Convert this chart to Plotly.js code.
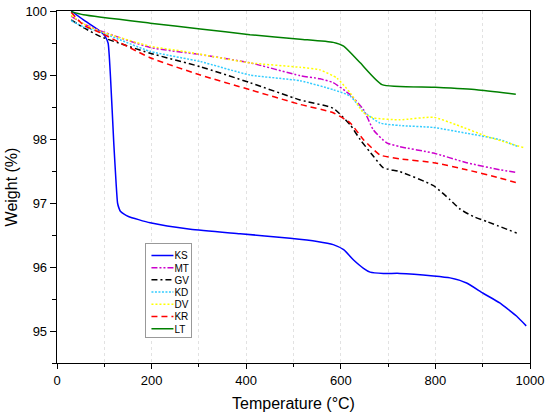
<!DOCTYPE html>
<html>
<head>
<meta charset="utf-8">
<script src="https://cdn.plot.ly/plotly-3.0.1.min.js"></script>
<style>html,body{margin:0;padding:0;background:#fff;}#chart{width:550px;height:417px;}</style>
</head>
<body>
<div id="chart"></div>
<script>
// Series data (Temperature °C, Weight %)
const seriesNames = ["KS", "MT", "GV", "KD", "DV", "KR", "LT"];

const ksT = [30,56,92,102,108,113,120,125,128,131,134,141,151,197,282,387,493,550,584,606,627,648,662,690,725,796,831,866,901,936,950,972,992];
const ksW = [100,99.86,99.68,99.6,99.5,98.98,97.94,97.3,97.0,96.92,96.87,96.83,96.79,96.69,96.59,96.52,96.45,96.40,96.35,96.27,96.11,95.98,95.92,95.90,95.90,95.86,95.83,95.75,95.59,95.44,95.36,95.23,95.08];

const mtT = [30,56,92,197,303,408,514,556,584,620,648,669,697,725,796,866,936,970];
const mtW = [99.92,99.8,99.69,99.43,99.32,99.19,98.99,98.94,98.88,98.69,98.46,98.14,97.94,97.88,97.78,97.63,97.52,97.48];

const gvT = [30,56,92,197,303,408,514,584,620,641,669,690,725,796,831,853,880,909,972];
const gvW = [99.86,99.74,99.60,99.34,99.13,98.88,98.61,98.48,98.22,97.99,97.73,97.55,97.49,97.27,97.05,96.90,96.79,96.71,96.53];

const kdT = [30,56,92,197,303,408,514,584,620,648,683,725,796,866,936,975];
const kdW = [99.85,99.75,99.67,99.37,99.21,99.00,98.91,98.77,98.67,98.43,98.25,98.21,98.18,98.09,97.99,97.88];

const dvT = [30,56,92,197,267,408,514,556,592,620,648,669,725,796,845,909,989];
const dvW = [99.93,99.8,99.68,99.45,99.37,99.19,99.12,99.08,98.95,98.72,98.41,98.33,98.30,98.34,98.22,98.04,97.86];

const krT = [30,56,92,197,303,408,514,584,620,648,683,725,796,866,936,970];
const krW = [99.98,99.78,99.66,99.27,99.00,98.77,98.54,98.41,98.25,97.99,97.75,97.69,97.63,97.52,97.39,97.32];

const ltT = [30,56,197,303,408,514,584,606,641,687,796,887,970];
const ltW = [99.99,99.94,99.81,99.72,99.63,99.56,99.51,99.45,99.19,98.85,98.81,98.77,98.70];

const xTickVals = [0,200,400,600,800,1000];
const yTickVals = [95,96,97,98,99,100];

const styles = {
  KS: {color:"#0000ff", dash:"solid"},
  MT: {color:"#cc00cc", dash:"6px,2px,2px,2px,2px,2px"},
  GV: {color:"#000000", dash:"6px,3px,2px,3px"},
  KD: {color:"#33ccff", dash:"2px,1.5px"},
  DV: {color:"#ffff00", dash:"2px,2px"},
  KR: {color:"#ff0000", dash:"6px,4px"},
  LT: {color:"#008000", dash:"solid"}
};

const dataXY = {KS:[ksT,ksW], MT:[mtT,mtW], GV:[gvT,gvW], KD:[kdT,kdW], DV:[dvT,dvW], KR:[krT,krW], LT:[ltT,ltW]};

const traces = seriesNames.map(n => ({
  x: dataXY[n][0], y: dataXY[n][1], name: n, type: "scatter", mode: "lines",
  line: {color: styles[n].color, dash: styles[n].dash, width: 1.5, shape: "spline", smoothing: 0.5}
}));

const font = {family: "Liberation Sans, Arial, sans-serif", color: "#000"};

const layout = {
  width: 550, height: 417,
  margin: {l: 57, r: 20, t: 11, b: 54},
  paper_bgcolor: "#fff", plot_bgcolor: "#fff",
  font: font,
  showlegend: true,
  legend: {
    x: 0.187, y: 0.341, xanchor: "left", yanchor: "top",
    bgcolor: "#fff", bordercolor: "#999", borderwidth: 1,
    font: {family: font.family, size: 10, color: "#000"},
    itemwidth: 30, tracegroupgap: 0
  },
  xaxis: {
    range: [0, 1000], tickvals: xTickVals, ticktext: xTickVals.map(String),
    ticks: "outside", ticklen: 5, tickwidth: 1, tickcolor: "#000",
    showline: true, linecolor: "#000", linewidth: 1.3, mirror: true,
    showgrid: true, gridcolor: "#e2e2e2", griddash: "dot", gridwidth: 1,
    minor: {dtick: 100, ticks: "outside", ticklen: 3, tickcolor: "#000", showgrid: true, gridcolor: "#e2e2e2", griddash: "dot", gridwidth: 1},
    zeroline: false,
    tickfont: {family: font.family, size: 13, color: "#000"},
    title: {text: "Temperature (°C)", font: {family: font.family, size: 16, color: "#000"}, standoff: 11}
  },
  yaxis: {
    range: [94.5, 100], tickvals: yTickVals, ticktext: yTickVals.map(String),
    ticks: "outside", ticklen: 6, tickwidth: 1, tickcolor: "#000",
    showline: true, linecolor: "#000", linewidth: 1.3, mirror: true,
    showgrid: false, zeroline: false,
    minor: {dtick: 0.5, ticks: "outside", ticklen: 4, tickcolor: "#000", showgrid: false},
    tickfont: {family: font.family, size: 13, color: "#000"},
    title: {text: "Weight (%)", font: {family: font.family, size: 16, color: "#000"}, standoff: 3}
  }
};

Plotly.newPlot("chart", traces, layout, {displayModeBar: false, staticPlot: true}).then(gd => {
  // compact the legend rows and samples to match the reference legend
  const leg = gd.querySelector(".legend");
  if (!leg) return;
  const items = leg.querySelectorAll(".traces");
  const dy = 12.2;
  const shrink = 8;
  let first = null;
  let maxRight = 0;
  items.forEach((it, i) => {
    const t = it.getAttribute("transform") || "";
    const m = t.match(/translate\(\s*([-\d.]+)[ ,]+([-\d.]+)\s*\)/);
    if (!m) return;
    const x = parseFloat(m[1]);
    if (first === null) first = parseFloat(m[2]) - 3;
    it.setAttribute("transform", "translate(" + x + "," + (first + i * dy) + ")");
    it.querySelectorAll("path.js-line").forEach(p => {
      p.setAttribute("d", "M5,0h" + (30 - shrink));
    });
    const txt = it.querySelector("text.legendtext");
    if (txt) {
      const tx = parseFloat(txt.getAttribute("x") || "40");
      txt.setAttribute("x", tx - shrink - 4);
      try {
        const bb = txt.getBBox();
        maxRight = Math.max(maxRight, x + bb.x + bb.width);
      } catch (e) {}
    }
  });
  const bg = leg.querySelector("rect.bg");
  if (bg && first !== null) {
    const h = first + (items.length - 1) * dy + 8;
    bg.setAttribute("height", h);
    if (maxRight > 0) bg.setAttribute("width", maxRight + 2);
  }
});
</script>
</body>
</html>
